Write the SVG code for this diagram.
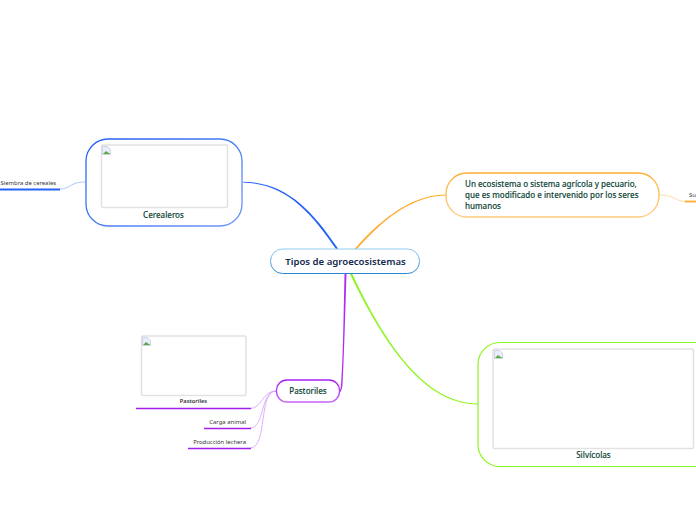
<svg xmlns="http://www.w3.org/2000/svg" width="696" height="520" viewBox="0 0 696 520">
<style>
text{font-family:"Noto Sans","Open Sans",sans-serif}
.main{font-size:8px;fill:#0c4536;font-weight:500;stroke:#0c4536;stroke-width:0.100}
.leaf{font-size:5.900px;fill:#333}
.img{fill:#fff;stroke:#e2e2e2;stroke-width:1.500}
.c{fill:none}
</style>
<defs>
<linearGradient id="gb" x1="0" y1="0" x2="1" y2="1"><stop offset="0" stop-color="#1f5ff5"/><stop offset="1" stop-color="#6f98fa"/></linearGradient>
<linearGradient id="go" x1="0" y1="0" x2="0" y2="1"><stop offset="0" stop-color="#ffab2e"/><stop offset="1" stop-color="#ffcb7c"/></linearGradient>
<linearGradient id="gp" x1="0" y1="0" x2="0" y2="1"><stop offset="0" stop-color="#a81ff5"/><stop offset="1" stop-color="#c864fa"/></linearGradient>
<linearGradient id="gr" x1="0" y1="0" x2="0" y2="1"><stop offset="0" stop-color="#8fcdf0"/><stop offset="1" stop-color="#2a86d0"/></linearGradient>
<g id="broken"><path d="M0.500 0.500h5l3 3v5h-8z" fill="#e8eefb" stroke="#b4bece" stroke-width="0.600"/><path d="M1 8l3-3 2 1.500 2.500 1.500z" fill="#5aa84a"/></g>
</defs>
<g id="connectors" class="c">
<path d="M243 182.500C285 183.500 310 210.500 336.300 249.500L338 248.500C311.500 209.500 286 182.500 243 181.700z" fill="#2563f5"/>
<path d="M85 182C70 182 70 189 60 189" stroke="#9db8fb" stroke-width="0.800"/>
<path d="M0 189.500H60" stroke="#2563f5" stroke-width="1.800"/>
<path d="M354.800 248.800C385 214.500 415 194.600 446 194.600V195.400C415.800 195.400 386 215.500 356.200 249.800z" fill="#ffab2e"/>
<path d="M659 195C675 195 675 201 685 201.500" stroke="#ffd08a" stroke-width="0.800"/>
<path d="M685 201.500H696" stroke="#ffab2e" stroke-width="1.800"/>
<path d="M350 274C384.500 345.500 424.500 404.500 478 404.500V403.500C425.500 403.500 385.500 344.500 352.300 274z" fill="#8cf51f"/>
<path d="M344.500 274C343.500 320 343 360 341 385Q340.500 390 339.500 391.500L340.500 392Q342 390 342.500 385C344 360 345 320 346.500 274z" fill="#b02cf5"/>
<path d="M276 391C262 391 262 408.500 250 408.500" stroke="#d59bfb" stroke-width="0.800"/>
<path d="M276 391C260 391 265 428 250 428" stroke="#d59bfb" stroke-width="0.800"/>
<path d="M276 391C258 391 268 448 250 448" stroke="#d59bfb" stroke-width="0.800"/>
<path d="M136 408.500H251" stroke="#a31ff0" stroke-width="1.500"/>
<path d="M204 428.500H251" stroke="#a31ff0" stroke-width="1.500"/>
<path d="M188 448.500H251" stroke="#a31ff0" stroke-width="1.500"/>
</g>
<g id="root"><rect x="270.500" y="249" width="149" height="24.500" rx="12" fill="#fff" stroke="url(#gr)" stroke-width="1"/><text x="345.500" y="265" text-anchor="middle" font-size="9.600" font-weight="600" fill="#12294f">Tipos de agroecosistemas</text></g>
<g id="cerealeros"><rect x="86" y="139" width="156" height="87" rx="22" fill="#fff" stroke="url(#gb)" stroke-width="1.300"/><rect class="img" x="101.500" y="145" width="126" height="62.500" rx="1.500"/><use href="#broken" x="102" y="146"/><text class="main" x="163.500" y="218" text-anchor="middle">Cerealeros</text></g>
<g id="siembra"><text class="leaf" x="0.500" y="184.500">Siembra de cereales</text></g>
<g id="definicion"><rect x="446" y="173" width="213" height="44" rx="21" fill="#fff" stroke="url(#go)" stroke-width="1.300"/><text class="main" x="465" y="187">Un ecosistema o sistema agrícola y pecuario,</text><text class="main" x="465" y="198">que es modificado e intervenido por los seres</text><text class="main" x="465" y="209">humanos</text></g>
<g id="su"><text class="leaf" x="689" y="197">Su</text></g>
<g id="silvicolas"><rect x="478" y="342.500" width="240" height="124" rx="22" fill="#fff" stroke="#8cf51f" stroke-width="1.200"/><rect class="img" x="493" y="349" width="200.500" height="99.500" rx="1.500"/><use href="#broken" x="494" y="350"/><text class="main" x="593.500" y="458" text-anchor="middle">Silvícolas</text></g>
<g id="pastoriles"><rect x="276.500" y="380" width="63" height="22" rx="10.500" fill="#fff" stroke="url(#gp)" stroke-width="1.300"/><text class="main" x="308" y="393.500" text-anchor="middle">Pastoriles</text></g>
<g id="pastoriles-img"><rect class="img" x="141.500" y="336" width="104.500" height="59.500" rx="1.500"/><use href="#broken" x="142" y="337"/><text x="193.500" y="402.500" text-anchor="middle" font-size="5.700" font-weight="600" fill="#333">Pastoriles</text></g>
<g id="carga"><text class="leaf" x="246" y="423.500" text-anchor="end">Carga animal</text></g>
<g id="produccion"><text class="leaf" x="246" y="443.500" text-anchor="end">Producción lechera</text></g>
</svg>
